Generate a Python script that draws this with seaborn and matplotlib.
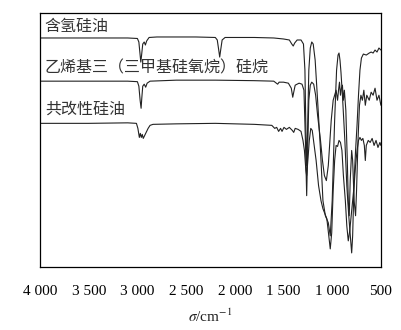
import matplotlib
matplotlib.use("Agg")
import matplotlib.pyplot as plt
import seaborn as sns
import pandas as pd

# Wavenumber (cm^-1) and stacked transmittance (arbitrary offset units) for each sample
h_oil_wn = [4000, 3500, 3100, 3000, 2985, 2975, 2965, 2958, 2945, 2930, 2918, 2905, 2880, 2800,
            2400, 2200, 2180, 2165, 2155, 2145, 2130, 2100, 1800, 1600, 1500, 1440, 1415, 1400,
            1385, 1360, 1320, 1295, 1280, 1270, 1262, 1255, 1240, 1225, 1210, 1195, 1175, 1150,
            1120, 1095, 1070, 1040, 1020, 1000, 975, 955, 940, 930, 920, 910, 895, 870, 850, 830,
            810, 800, 790, 775, 760, 745, 730, 715, 700, 680, 650, 620, 600, 580, 560, 540, 520, 500]
h_oil_t = [228, 228, 228, 227.5, 224, 214, 204, 210, 222, 224, 221, 225, 228.5, 229,
           229, 228.5, 226, 216, 209, 216, 226, 228.5, 228.5, 228, 227, 226, 222, 220,
           223, 226, 226, 222, 196, 136, 101, 126, 196, 218, 224, 222, 206, 166,
           116, 66, 51, 44, 31, 66, 146, 196, 211, 213, 206, 194, 171, 126, 81, 51,
           26, 14, 31, 86, 116, 141, 171, 196, 208, 212, 211, 213, 214, 213, 216, 214, 218, 216]

vinyl_wn = [4000, 3500, 3100, 3000, 2985, 2972, 2962, 2955, 2945, 2930, 2915, 2900, 2870, 2600,
            2200, 1800, 1600, 1560, 1545, 1500, 1450, 1420, 1405, 1395, 1380, 1340, 1310, 1290,
            1275, 1262, 1252, 1240, 1225, 1210, 1190, 1170, 1150, 1120, 1100, 1080, 1060, 1040,
            1010, 990, 975, 960, 945, 935, 925, 915, 905, 895, 885, 875, 860, 845, 835, 825, 815,
            800, 790, 775, 760, 750, 735, 720, 705, 690, 675, 660, 645, 620, 600, 580, 560, 540,
            520, 500]
vinyl_t = [185, 185, 185, 184.5, 180, 166, 158, 168, 180, 182, 179, 183, 185, 186,
           186, 185.5, 185, 182, 184, 184, 183, 178, 169, 174, 181, 183, 182, 176,
           126, 71, 116, 166, 181, 184, 182, 171, 151, 126, 106, 91, 86, 101,
           146, 166, 171, 176, 166, 176, 184, 171, 178, 181, 166, 176, 156, 106, 66, 51, 86,
           116, 106, 66, 51, 76, 126, 161, 171, 166, 176, 161, 171, 166, 174, 171, 178, 166,
           171, 161]

co_wn = [4000, 3500, 3100, 3010, 2995, 2980, 2970, 2960, 2950, 2940, 2925, 2910, 2890, 2870,
         2840, 2600, 2200, 1800, 1620, 1590, 1570, 1550, 1530, 1515, 1495, 1470, 1440, 1410,
         1395, 1380, 1350, 1320, 1300, 1285, 1270, 1262, 1250, 1235, 1220, 1205, 1185, 1165,
         1140, 1115, 1095, 1075, 1055, 1035, 1020, 1005, 990, 975, 960, 945, 930, 915, 900,
         885, 865, 850, 835, 820, 805, 790, 775, 760, 745, 730, 715, 700, 685, 670, 660, 650,
         630, 610, 590, 570, 550, 530, 510, 500]
co_t = [143, 143, 143.5, 143, 138, 129, 133, 129, 132, 128, 131, 134, 138, 141,
        142, 142.5, 143, 142, 141, 138, 139, 135, 138, 135, 139, 137, 139, 136,
        134, 138, 137, 135, 126, 116, 96, 91, 106, 126, 138, 136, 121, 106,
        81, 66, 58, 53, 48, 31, 18, 34, 76, 106, 121, 120, 126, 124, 116,
        91, 66, 41, 26, 36, 51, 66, 81, 101, 116, 126, 129, 126, 128, 121, 106, 121,
        126, 124, 128, 121, 126, 119, 124, 121]

sample_names = ["含氢硅油", "乙烯基三（三甲基硅氧烷）硅烷", "共改性硅油"]
label_wn = [3950, 3950, 3950]
label_t = [239, 198, 157]

tick_values = [4000, 3500, 3000, 2500, 2000, 1500, 1000, 500]
tick_labels = ["4 000", "3 500", "3 000", "2 500", "2 000", "1 500", "1 000", "500"]

frames = []
for name, wn, t in zip(sample_names, [h_oil_wn, vinyl_wn, co_wn], [h_oil_t, vinyl_t, co_t]):
    frames.append(pd.DataFrame({"wn": wn, "T": t, "sample": name}))
df = pd.concat(frames, ignore_index=True)

sns.set_style("white")
plt.rcParams["font.family"] = ["Liberation Serif", "Noto Sans CJK SC"]
plt.rcParams["mathtext.fontset"] = "stix"

fig = plt.figure(figsize=(4.02, 3.30), dpi=100)
ax = fig.add_axes([0.0995, 0.191, 0.848, 0.770])

sns.lineplot(data=df, x="wn", y="T", hue="sample", units="sample", estimator=None,
             palette=["#222222"] * 3, linewidth=0.8, legend=False, sort=True, ax=ax)

for name, x, y in zip(sample_names, label_wn, label_t):
    ax.text(x, y, name, fontsize=11.5, va="center", ha="left", color="#333333",
            family=["Noto Sans CJK SC", "DejaVu Sans"])

ax.set_xlim(4000, 500)
ax.set_ylim(0, 253)
ax.set_xticks(tick_values)
ax.set_xticklabels(tick_labels, fontsize=11, color="#222222")
ax.set_yticks([])
ax.tick_params(axis="x", direction="in", length=5, width=0.8, pad=13, colors="black")
ax.set_xlabel(r"$\sigma$/cm$^{-1}$", fontsize=11, labelpad=7, color="#222222")
ax.set_ylabel("")
for s in ax.spines.values():
    s.set_visible(True)
    s.set_color("black")
    s.set_linewidth(0.9)

fig.savefig("out.png", dpi=100)
